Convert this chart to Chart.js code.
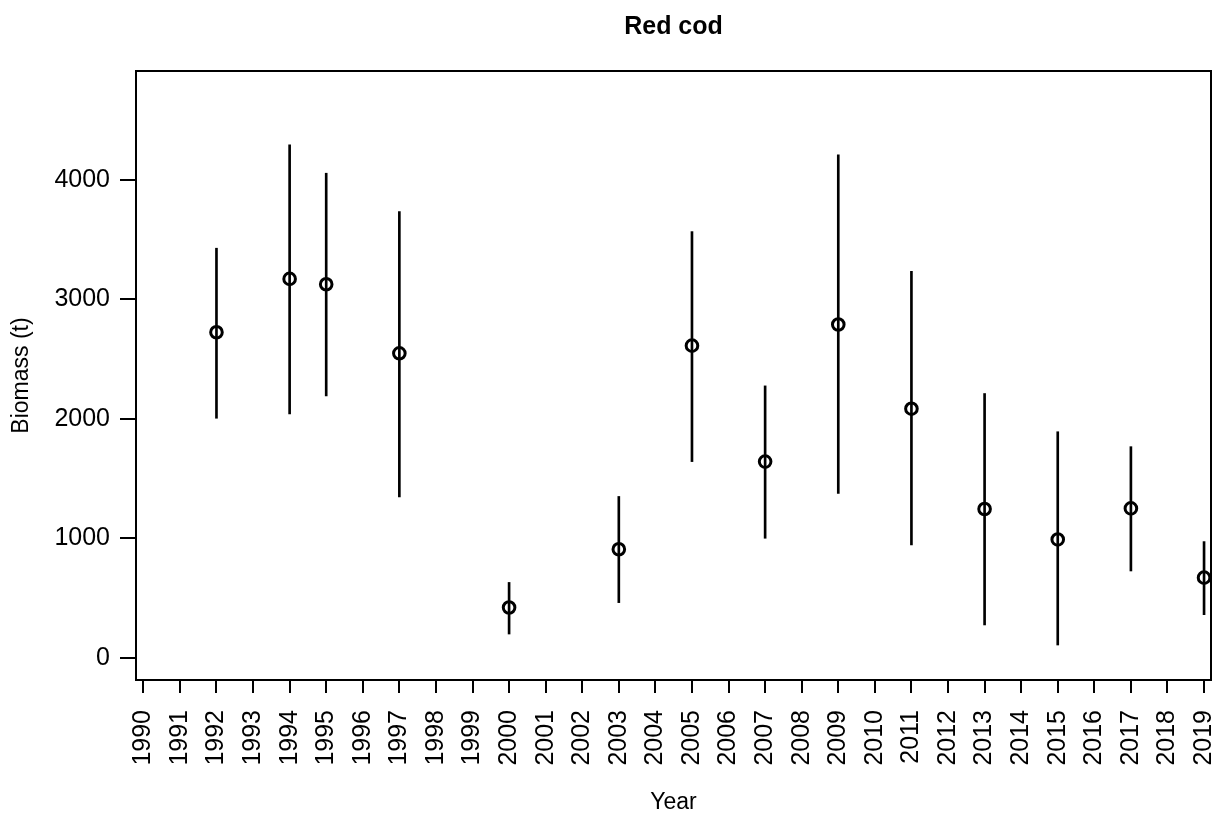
<!DOCTYPE html>
<html>
<head>
<meta charset="utf-8">
<script src="https://cdn.jsdelivr.net/npm/chart.js@4"></script>
<style>
  html, body { margin: 0; padding: 0; background: #fff; }
  #wrap { width: 1216px; height: 817px; }
</style>
</head>
<body>
<div id="wrap"><canvas id="c" width="1216" height="817"></canvas></div>
<script>
// ---- data ----
const years   = [1992, 1994, 1995, 1997, 2000, 2003, 2005, 2007, 2009, 2011, 2013, 2015, 2017, 2019];
const biomass = [2725, 3172, 3127, 2549,  420,  908, 2613, 1642, 2790, 2085, 1245,  990, 1250,  670];
const lower   = [2005, 2041, 2192, 1346,  198,  461, 1642, 1000, 1375,  944,  274,  106,  726,  360];
const upper   = [3429, 4294, 4057, 3735,  630, 1350, 3568, 2276, 4210, 3235, 2212, 1892, 1767,  972];

const xTickValues = [1990,1991,1992,1993,1994,1995,1996,1997,1998,1999,2000,2001,2002,2003,2004,
                     2005,2006,2007,2008,2009,2010,2011,2012,2013,2014,2015,2016,2017,2018,2019];
const xTickLabels = xTickValues.map(String);
const yTickValues = [0, 1000, 2000, 3000, 4000];
const yTickLabels = ['0', '1000', '2000', '3000', '4000'];

const chartTitle = 'Red cod';
const xTitle = 'Year';
const yTitle = 'Biomass (t)';

// ---- chart ----
const FONT = "'Liberation Sans', Arial, Helvetica, sans-serif";
Chart.defaults.font.family = FONT;
Chart.defaults.color = '#000';

const boxPlugin = {
  id: 'plotBox',
  afterDraw(chart) {
    const a = chart.chartArea, ctx = chart.ctx;
    ctx.save();
    ctx.strokeStyle = '#000';
    ctx.lineWidth = 2;
    ctx.strokeRect(a.left, a.top, a.right - a.left, a.bottom - a.top);
    ctx.restore();
  }
};

new Chart(document.getElementById('c'), {
  type: 'bar',
  data: {
    datasets: [
      {
        type: 'scatter',
        label: 'Biomass',
        data: years.map((y, i) => ({ x: y, y: biomass[i] })),
        pointStyle: 'circle',
        pointRadius: 5.8,
        pointBorderWidth: 3,
        borderColor: '#000',
        pointBorderColor: '#000',
        backgroundColor: 'rgba(0,0,0,0)',
        pointBackgroundColor: 'rgba(0,0,0,0)',
        showLine: false,
        clip: false,
        order: 0
      },
      {
        type: 'bar',
        label: 'CI',
        data: years.map((y, i) => ({ x: y, y: [lower[i], upper[i]] })),
        backgroundColor: '#000',
        borderWidth: 0,
        barThickness: 2,
        order: 1
      }
    ]
  },
  options: {
    responsive: false,
    devicePixelRatio: 1,
    animation: false,
    layout: { autoPadding: false, padding: { left: 0, right: 5, top: 0, bottom: 0 } },
    plugins: {
      legend: { display: false },
      tooltip: { enabled: false },
      title: {
        display: true,
        text: chartTitle,
        fullSize: false,
        font: { size: 25, weight: 'bold', family: FONT },
        color: '#000',
        padding: { top: 12, bottom: 29 }
      }
    },
    scales: {
      x: {
        type: 'linear',
        position: 'bottom',
        offset: false,
        min: 1989.8,
        max: 2019.19,
        afterBuildTicks: s => { s.ticks = xTickValues.map(v => ({ value: v })); },
        afterFit: s => { s.height = 137; s.paddingLeft = 0; s.paddingRight = 0; },
        ticks: {
          autoSkip: false,
          minRotation: 90,
          maxRotation: 90,
          padding: 17,
          font: { size: 25, family: FONT },
          color: '#000',
          callback: (v, i) => xTickLabels[i]
        },
        grid: { display: true, offset: false, drawOnChartArea: false, drawTicks: true, tickLength: 13, color: '#000', lineWidth: 2 },
        border: { display: true, color: '#000', width: 2 },
        title: { display: true, text: xTitle, font: { size: 23, family: FONT }, color: '#000', padding: { top: 0, bottom: 1 } }
      },
      y: {
        type: 'linear',
        position: 'left',
        min: -187,
        max: 4913,
        afterBuildTicks: s => { s.ticks = yTickValues.map(v => ({ value: v })); },
        afterFit: s => { s.width = 136; s.paddingTop = 0; s.paddingBottom = 0; },
        ticks: {
          padding: 10,
          font: { size: 25, family: FONT },
          color: '#000',
          callback: (v, i) => yTickLabels[i]
        },
        grid: { display: true, drawOnChartArea: false, drawTicks: true, tickLength: 16, color: '#000', lineWidth: 2 },
        border: { display: true, color: '#000', width: 2 },
        title: { display: true, text: yTitle, font: { size: 23, family: FONT }, color: '#000', padding: { top: 8, bottom: 0 } }
      }
    }
  },
  plugins: [boxPlugin]
});
</script>
</body>
</html>
